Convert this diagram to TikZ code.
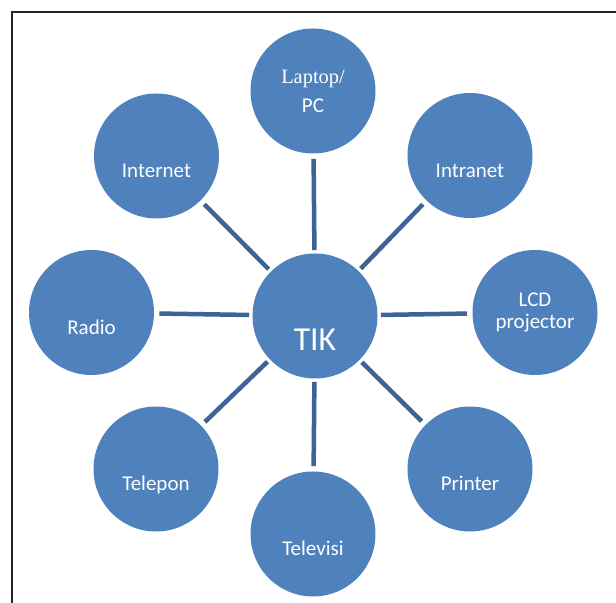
\documentclass[tikz,border=0pt]{standalone}
\usepackage{fontspec}
\setmainfont{Carlito}
\newfontfamily\serifword{Liberation Serif}
\definecolor{bubblue}{HTML}{4F81BD}
\definecolor{spokeblue}{HTML}{3B6497}
\tikzset{
	bubble/.style={circle, fill=bubblue, inner sep=0pt, minimum size=62.5pt, text=white, font=\fontsize{10.5pt}{10.7pt}\selectfont},
	lowtext/.style={text height=25pt, text depth=3.2pt},
	spoke/.style={draw=spokeblue, line width=2.25pt, shorten <=1.5pt, shorten >=2.5pt}
}
\begin{document}
\begin{tikzpicture}[x=0.5pt, y=0.5pt]
			\useasboundingbox (0,0) rectangle (616,603);
			\draw[black!85, line width=1pt] (12,0) -- (12,591) -- (616,591);
			
			\node[bubble, font=\fontsize{16.8pt}{18pt}\selectfont, text height=36pt, text depth=1.2pt] (tik) at (315,287) {TIK};
			
			\node[bubble, align=center] (laptop) at (313,512) {{\serifword\fontsize{10.2pt}{10.7pt}\selectfont Laptop/}\\[3.8pt]PC};
			\node[bubble, lowtext] (intranet) at (470,447.5) {Intranet};
			\node[bubble, align=center] (lcd) at (535,290.5) {LCD\\projector};
			\node[bubble, lowtext] (printer) at (470,134) {Printer};
			\node[bubble, lowtext] (televisi) at (313,69) {Televisi};
			\node[bubble, lowtext] (telepon) at (156,134) {Telepon};
			\node[bubble, lowtext] (radio) at (91.5,290.5) {Radio};
			\node[bubble, lowtext] (internet) at (156.5,447) {Internet};
			
			\foreach \to in {laptop,intranet,lcd,printer,televisi,telepon,radio,internet}
			\draw[spoke] (tik) -- (\to);
		\end{tikzpicture}
\end{document}
